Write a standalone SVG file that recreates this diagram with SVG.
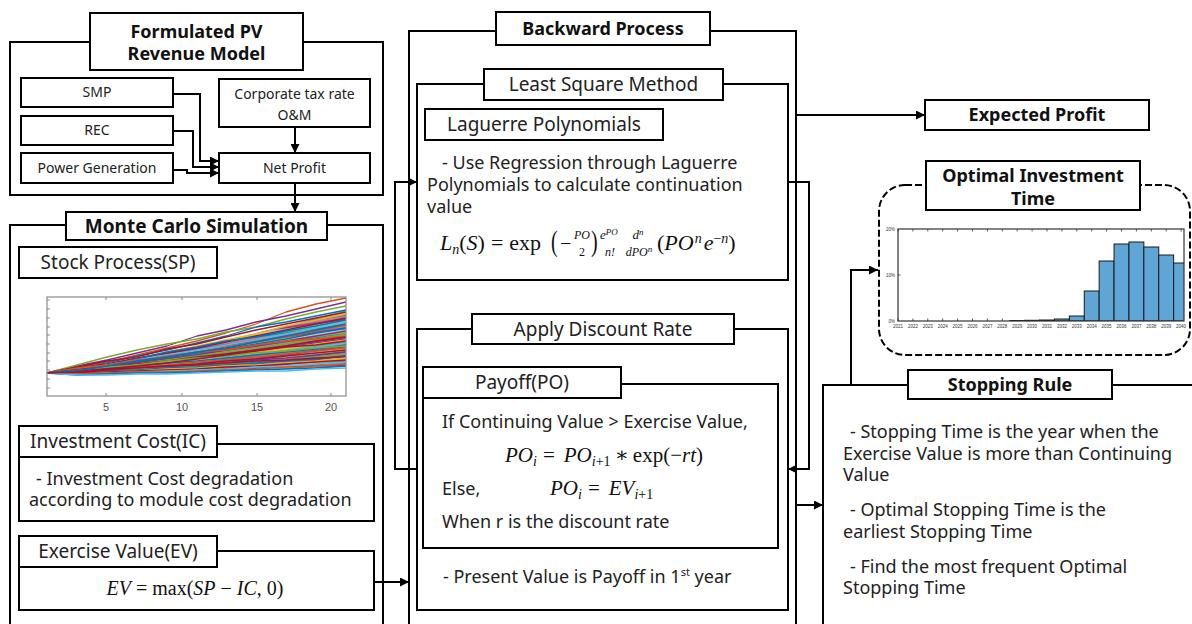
<svg xmlns="http://www.w3.org/2000/svg" width="1192" height="624" viewBox="0 0 1192 624">
<defs>
<style>
.box{fill:#fff;stroke:#000;stroke-width:2}
.frame{fill:none;stroke:#000;stroke-width:2}
.t{font-family:"Noto Sans","Open Sans",sans-serif;font-size:18px;fill:#222}
.s{font-family:"Noto Sans","Open Sans",sans-serif;font-size:14px;fill:#222}
.h{font-family:"Noto Sans","Open Sans",sans-serif;font-size:18px;font-weight:bold;fill:#111}
.ti{font-family:"Noto Sans","Open Sans",sans-serif;font-size:19px;fill:#222}
.m{font-family:"Liberation Serif","DejaVu Serif",serif;font-size:20px;fill:#111}
.i{font-style:italic}
.c{fill:none;stroke:#000;stroke-width:2}
.ax{fill:none;stroke:#8a8a8a;stroke-width:1.2}
.tk{stroke:#8a8a8a;stroke-width:1}
.ln{fill:none;stroke-width:1.3;stroke-linejoin:round}
.l0{stroke:#0072BD}.l1{stroke:#D95319}.l2{stroke:#EDB120}.l3{stroke:#7E2F8E}.l4{stroke:#77AC30}.l5{stroke:#4DBEEE}.l6{stroke:#A2142F}
.bar{fill:#5FA5D6;stroke:#1a1a1a;stroke-width:1}
.yr{font-family:"Liberation Sans",sans-serif;font-size:4.5px;fill:#333}
.ch{font-family:"Noto Sans","Open Sans",sans-serif;font-size:18px;font-weight:bold;fill:#111}
.ax5{font-family:"Liberation Sans",sans-serif;font-size:11px;fill:#555}
</style>
<marker id="ah" viewBox="0 0 10 10" refX="10" refY="5" markerWidth="9" markerHeight="9" markerUnits="userSpaceOnUse" orient="auto"><path d="M0,0 L10,5 L0,10 z" fill="#000"/></marker>
<clipPath id="hc"><rect x="898" y="229" width="286" height="92"/></clipPath>
<pattern id="mix" width="9" height="9" patternUnits="userSpaceOnUse" patternTransform="rotate(-8)">
<rect width="9" height="1.3" y="0" fill="#0072BD"/>
<rect width="9" height="1.3" y="1.3" fill="#D95319"/>
<rect width="9" height="1.3" y="2.6" fill="#7E2F8E"/>
<rect width="9" height="1.3" y="3.9" fill="#A2142F"/>
<rect width="9" height="1.3" y="5.2" fill="#4DBEEE"/>
<rect width="9" height="1.3" y="6.5" fill="#EDB120"/>
<rect width="9" height="1.2" y="7.8" fill="#77AC30"/>
</pattern>
</defs>
<rect width="1192" height="624" fill="#fff"/>

<!-- Formulated PV Revenue Model -->
<g id="pv-model">
<rect class="frame" x="10" y="42" width="373" height="153"/>
<rect class="box" x="90" y="13" width="213" height="57"/>
<text class="h" x="196.5" y="38" text-anchor="middle">Formulated PV</text>
<text class="h" x="196.5" y="60" text-anchor="middle">Revenue Model</text>
</g>
<g id="smp"><rect class="box" x="21" y="78" width="152" height="29"/><text class="s" x="97" y="97" text-anchor="middle">SMP</text></g>
<g id="rec"><rect class="box" x="21" y="116" width="152" height="29"/><text class="s" x="97" y="135" text-anchor="middle">REC</text></g>
<g id="power"><rect class="box" x="21" y="153" width="152" height="30"/><text class="s" x="97" y="173" text-anchor="middle">Power Generation</text></g>
<g id="tax"><rect class="box" x="219" y="79" width="151" height="48"/><text class="s" x="294.5" y="99" text-anchor="middle">Corporate tax rate</text><text class="s" x="294.5" y="120" text-anchor="middle">O&amp;M</text></g>
<g id="net-profit"><rect class="box" x="219" y="153" width="151" height="30"/><text class="s" x="294.5" y="173" text-anchor="middle">Net Profit</text></g>

<!-- Monte Carlo Simulation -->
<g id="monte-carlo">
<path class="frame" d="M10,630 V225 H383 V630"/>
<rect class="box" x="66" y="212" width="261" height="28"/>
<text class="h" x="196.5" y="233" text-anchor="middle" style="font-size:19px">Monte Carlo Simulation</text>
</g>
<g id="stock-process">
<rect class="box" x="19" y="247" width="198" height="31"/>
<text class="ti" x="118" y="269" text-anchor="middle">Stock Process(SP)</text>
<polygon points="47,373 77,369 107,364 137,358 167,352 197,346 226,340 256,333 286,326 316,318 346,310 346,367 286,369 197,371 107,374 77,374" fill="url(#mix)" opacity="0.9"/>
<g class="ln">
<polyline class="l1" points="47,373 77,367 107,362 137,355 167,348 197,341 226,333 256,324 286,312 316,304 346,298"/>
<polyline class="l3" points="47,373 77,366 107,360 137,353 167,346 197,336 226,330 256,322 286,316 316,309 346,302"/>
<polyline class="l4" points="47,373 77,365 107,357 137,350 167,344 197,339 226,332 256,327 286,319 316,312 346,306"/>
<polyline class="l0" points="47,373 77,369 107,363 137,356 167,350 197,343 226,336 256,327 286,322 316,316 346,310"/>
<polyline class="l6" points="47,373 77,367 107,361 137,357 167,349 197,344 226,337 256,330 286,324 316,318 346,312"/>
<polyline class="l2" points="47,373 77,370 107,364 137,358 167,352 197,346 226,340 256,334 286,326 316,320 346,314"/>
<polyline class="l6" points="47,373 77,368 107,364 137,358 167,353 197,348 226,342 256,336 286,330 316,324 346,318"/>
<polyline class="l0" points="47,373 77,371 107,365 137,359 167,352 197,347 226,341 256,337 286,331 316,326 346,320"/>
<polyline class="l5" points="47,373 77,370 107,365 137,360 167,355 197,350 226,345 256,340 286,334 316,328 346,322"/>
<polyline class="l1" points="47,373 77,369 107,366 137,361 167,356 197,352 226,347 256,342 286,337 316,331 346,325"/>
<polyline class="l0" points="47,373 77,371 107,367 137,362 167,358 197,353 226,349 256,344 286,339 316,333 346,328"/>
<polyline class="l3" points="47,373 77,370 107,366 137,363 167,359 197,355 226,350 256,346 286,341 316,336 346,331"/>
<polyline class="l4" points="47,373 77,372 107,368 137,364 167,360 197,356 226,352 256,348 286,344 316,339 346,334"/>
<polyline class="l1" points="47,373 77,368 107,365 137,360 167,357 197,352 226,350 256,345 286,341 316,339 346,336"/>
<polyline class="l6" points="47,373 77,370 107,367 137,364 167,361 197,357 226,354 256,350 286,346 316,341 346,337"/>
<polyline class="l3" points="47,373 77,371 107,368 137,366 167,362 197,358 226,356 256,352 286,347 316,343 346,339"/>
<polyline class="l2" points="47,373 77,371 107,369 137,365 167,362 197,359 226,356 256,352 286,348 316,344 346,340"/>
<polyline class="l5" points="47,373 77,372 107,369 137,367 167,364 197,361 226,358 256,355 286,351 316,347 346,343"/>
<polyline class="l0" points="47,373 77,370 107,368 137,366 167,363 197,361 226,358 256,355 286,352 316,349 346,345"/>
<polyline class="l4" points="47,373 77,371 107,367 137,365 167,361 197,358 226,356 256,353 286,351 316,348 346,346"/>
<polyline class="l1" points="47,373 77,372 107,370 137,367 167,365 197,362 226,360 256,357 286,354 316,351 346,348"/>
<polyline class="l6" points="47,373 77,371 107,369 137,368 167,366 197,364 226,361 256,359 286,356 316,353 346,350"/>
<polyline class="l3" points="47,373 77,372 107,370 137,369 167,367 197,365 226,363 256,360 286,358 316,355 346,352"/>
<polyline class="l4" points="47,373 77,373 107,371 137,369 167,368 197,366 226,364 256,362 286,360 316,357 346,354"/>
<polyline class="l0" points="47,373 77,372 107,371 137,370 167,368 197,367 226,365 256,363 286,361 316,359 346,356"/>
<polyline class="l6" points="47,373 77,373 107,370 137,368 167,366 197,365 226,363 256,361 286,360 316,358 346,357"/>
<polyline class="l2" points="47,373 77,374 107,372 137,371 167,369 197,368 226,366 256,365 286,363 316,361 346,358"/>
<polyline class="l6" points="47,373 77,373 107,372 137,371 167,370 197,369 226,367 256,366 286,364 316,362 346,360"/>
<polyline class="l5" points="47,373 77,374 107,373 137,372 167,371 197,370 226,369 256,367 286,366 316,364 346,362"/>
<polyline class="l1" points="47,373 77,374 107,373 137,372 167,372 197,371 226,370 256,369 286,367 316,366 346,364"/>
<polyline class="l0" points="47,373 77,375 107,374 137,373 167,373 197,372 226,371 256,370 286,369 316,368 346,366"/>
<polyline class="l5" points="47,373 77,375 107,375 137,374 167,374 197,373 226,372 256,371 286,371 316,369 346,368"/>
<polyline class="l0" points="47,373 77,371 107,366 137,361 167,357 197,352 226,348 256,342 286,336 316,330 346,324"/>
<polyline class="l6" points="47,373 77,372 107,369 137,366 167,363 197,359 226,355 256,351 286,347 316,345 346,341"/>
</g>
<rect class="ax" x="47" y="297" width="299" height="99"/>
<g class="tk">
<path d="M47,300h3M47,309h3M47,318h3M47,327h3M47,335h3M47,344h3M47,353h3M47,361h3M47,370h3M47,379h3M47,388h3"/>
<path d="M106,297v3M182,297v3M257,297v3M331,297v3M106,396v-3M182,396v-3M257,396v-3M331,396v-3"/>
</g>
<text class="ax5" x="106" y="411" text-anchor="middle">5</text>
<text class="ax5" x="182" y="411" text-anchor="middle">10</text>
<text class="ax5" x="257" y="411" text-anchor="middle">15</text>
<text class="ax5" x="331" y="411" text-anchor="middle">20</text>
</g>
<g id="investment-cost">
<rect class="frame" x="19" y="444" width="355" height="77"/>
<rect class="box" x="19" y="426" width="198" height="31"/>
<text class="ti" x="118" y="448" text-anchor="middle">Investment Cost(IC)</text>
<text class="t" x="36" y="485">- Investment Cost degradation</text>
<text class="t" x="29" y="506">according to module cost degradation</text>
</g>
<g id="exercise-value">
<rect class="frame" x="19" y="551" width="355" height="59"/>
<rect class="box" x="19" y="536" width="198" height="31"/>
<text class="ti" x="118" y="558" text-anchor="middle">Exercise Value(EV)</text>
<text class="m" x="195" y="595" text-anchor="middle"><tspan class="i">EV</tspan> = max(<tspan class="i">SP</tspan> − <tspan class="i">IC</tspan>, 0)</text>
</g>

<!-- Backward Process -->
<g id="backward-process">
<path class="frame" d="M409,630 V31 H796 V630"/>
<rect class="box" x="496" y="12" width="214" height="33"/>
<text class="h" x="603" y="35" text-anchor="middle">Backward Process</text>
</g>
<g id="least-square">
<rect class="frame" x="417" y="84" width="371" height="196"/>
<rect class="box" x="484" y="69" width="239" height="31"/>
<text class="ti" x="603.5" y="91" text-anchor="middle">Least Square Method</text>
</g>
<g id="laguerre">
<rect class="box" x="425" y="109" width="238" height="31"/>
<text class="ti" x="544" y="131" text-anchor="middle">Laguerre Polynomials</text>
<text class="t" x="442" y="169">- Use Regression through Laguerre</text>
<text class="t" x="427" y="191">Polynomials to calculate continuation</text>
<text class="t" x="427" y="213">value</text>
<text class="m" x="440" y="250" style="font-size:22px"><tspan class="i">L</tspan><tspan class="i" font-size="14" dy="4">n</tspan><tspan dy="-4">(</tspan><tspan class="i">S</tspan>)<tspan dx="6">=</tspan><tspan dx="6">exp</tspan></text>
<text class="m" transform="translate(551,251) scale(1,1.45)" style="font-size:20px">(</text>
<text class="m" x="560" y="250" style="font-size:20px">−</text>
<text class="m i" x="582" y="239" style="font-size:12px" text-anchor="middle">PO</text>
<text class="m" x="582" y="256" style="font-size:12px" text-anchor="middle">2</text>
<text class="m" transform="translate(591,251) scale(1,1.45)" style="font-size:20px">)</text>
<text class="m i" x="600" y="239" style="font-size:13px">e<tspan font-size="9" dy="-4">PO</tspan></text>
<text class="m i" x="610" y="256" style="font-size:12px" text-anchor="middle">n!</text>
<text class="m i" x="638" y="239" style="font-size:13px" text-anchor="middle">d<tspan font-size="9" dy="-4">n</tspan></text>
<text class="m i" x="639" y="256" style="font-size:12px" text-anchor="middle">dPO<tspan font-size="9" dy="-4">n</tspan></text>
<text class="m" x="657" y="250" style="font-size:22px">(<tspan class="i">PO</tspan><tspan class="i" font-size="14" dy="-7" dx="1">n</tspan><tspan class="i" dy="7" dx="2">e</tspan><tspan font-size="14" dy="-7">−</tspan><tspan class="i" font-size="14">n</tspan><tspan dy="7">)</tspan></text>
</g>
<g id="apply-discount">
<rect class="frame" x="417" y="329" width="371" height="281"/>
<rect class="box" x="472" y="314" width="262" height="30"/>
<text class="ti" x="603" y="336" text-anchor="middle">Apply Discount Rate</text>
<text class="t" x="443" y="583">- Present Value is Payoff in 1<tspan font-size="11" dy="-7">st</tspan><tspan dy="7"> year</tspan></text>
</g>
<g id="payoff">
<rect class="frame" x="423" y="384" width="355" height="164"/>
<rect class="box" x="423" y="367" width="198" height="31"/>
<text class="ti" x="522" y="389" text-anchor="middle">Payoff(PO)</text>
<text class="t" x="442" y="428">If Continuing Value &gt; Exercise Value,</text>
<text class="m" x="505" y="462" style="font-size:21px"><tspan class="i">PO</tspan><tspan class="i" font-size="14" dy="4">i</tspan><tspan dy="-4" dx="6">=</tspan><tspan class="i" dx="9">PO</tspan><tspan font-size="14" dy="4"><tspan class="i">i</tspan>+1</tspan><tspan dy="-4" dx="4">∗</tspan><tspan dx="4">exp(−</tspan><tspan class="i">rt</tspan>)</text>
<text class="t" x="442" y="495">Else,</text>
<text class="m" x="550" y="495" style="font-size:21px"><tspan class="i">PO</tspan><tspan class="i" font-size="14" dy="4">i</tspan><tspan dy="-4" dx="6">=</tspan><tspan class="i" dx="9">EV</tspan><tspan font-size="14" dy="4"><tspan class="i">i</tspan>+1</tspan></text>
<text class="t" x="442" y="528">When r is the discount rate</text>
</g>

<!-- Right side -->
<g id="expected-profit">
<rect class="box" x="925" y="100" width="224" height="30"/>
<text class="h" x="1037" y="121" text-anchor="middle">Expected Profit</text>
</g>
<g id="optimal-investment-time">
<rect x="879" y="185" width="311" height="170" rx="26" fill="none" stroke="#000" stroke-width="2" stroke-dasharray="7,3"/>
<rect class="box" x="926" y="161" width="214" height="49"/>
<text class="ch" x="1033" y="182" text-anchor="middle">Optimal Investment</text>
<text class="ch" x="1033" y="205" text-anchor="middle">Time</text>
<g clip-path="url(#hc)">
<rect class="bar" x="1009.75" y="320.5" width="14.9" height="0.5"/>
<rect class="bar" x="1024.65" y="320.3" width="14.9" height="0.7"/>
<rect class="bar" x="1039.55" y="320" width="14.9" height="1"/>
<rect class="bar" x="1054.45" y="319" width="14.9" height="2"/>
<rect class="bar" x="1069.35" y="316" width="14.9" height="5"/>
<rect class="bar" x="1084.25" y="291" width="14.9" height="30"/>
<rect class="bar" x="1099.15" y="261" width="14.9" height="60"/>
<rect class="bar" x="1114.05" y="244" width="14.9" height="77"/>
<rect class="bar" x="1128.95" y="242" width="14.9" height="79"/>
<rect class="bar" x="1143.85" y="247" width="14.9" height="74"/>
<rect class="bar" x="1158.75" y="255" width="14.9" height="66"/>
<rect class="bar" x="1173.65" y="263" width="14.9" height="58"/>
</g>
<rect x="898" y="229" width="286" height="92" fill="none" stroke="#333" stroke-width="1.2"/>
<path stroke="#333" stroke-width="0.8" d="M898,229v2.5M912.9,229v2.5M927.8,229v2.5M942.7,229v2.5M957.6,229v2.5M972.5,229v2.5M987.4,229v2.5M1002.3,229v2.5M1017.2,229v2.5M1032.1,229v2.5M1047,229v2.5M1061.9,229v2.5M1076.8,229v2.5M1091.7,229v2.5M1106.6,229v2.5M1121.5,229v2.5M1136.4,229v2.5M1151.3,229v2.5M1166.2,229v2.5M1181.1,229v2.5M898,321v-2.5M912.9,321v-2.5M927.8,321v-2.5M942.7,321v-2.5M957.6,321v-2.5M972.5,321v-2.5M987.4,321v-2.5M1002.3,321v-2.5M898,275h2.5"/>
<text class="yr" x="895" y="231" text-anchor="end">20%</text>
<text class="yr" x="895" y="277" text-anchor="end">10%</text>
<text class="yr" x="895" y="323" text-anchor="end">0%</text>
<g class="yr" text-anchor="middle">
<text x="898" y="328">2021</text><text x="912.9" y="328">2022</text><text x="927.8" y="328">2023</text><text x="942.7" y="328">2024</text><text x="957.6" y="328">2025</text><text x="972.5" y="328">2026</text><text x="987.4" y="328">2027</text><text x="1002.3" y="328">2028</text><text x="1017.2" y="328">2029</text><text x="1032.1" y="328">2030</text><text x="1047" y="328">2031</text><text x="1061.9" y="328">2032</text><text x="1076.8" y="328">2033</text><text x="1091.7" y="328">2034</text><text x="1106.6" y="328">2035</text><text x="1121.5" y="328">2036</text><text x="1136.4" y="328">2037</text><text x="1151.3" y="328">2038</text><text x="1166.2" y="328">2039</text><text x="1181.1" y="328">2040</text>
</g>
</g>
<g id="stopping-rule">
<path class="frame" d="M823,630 V385 H1200"/>
<rect class="box" x="908" y="370" width="204" height="29"/>
<text class="h" x="1010" y="391" text-anchor="middle">Stopping Rule</text>
<text class="t" x="850" y="438">- Stopping Time is the year when the</text>
<text class="t" x="843" y="460">Exercise Value is more than Continuing</text>
<text class="t" x="843" y="481">Value</text>
<text class="t" x="850" y="516">- Optimal Stopping Time is the</text>
<text class="t" x="843" y="538">earliest Stopping Time</text>
<text class="t" x="850" y="573">- Find the most frequent Optimal</text>
<text class="t" x="843" y="594">Stopping Time</text>
</g>

<!-- Connectors -->
<g id="connectors">
<path class="c" d="M173,94 H200 V161 H219" marker-end="url(#ah)"/>
<path class="c" d="M173,131 H193 V167 H219" marker-end="url(#ah)"/>
<path class="c" d="M173,170 H187 V173 H219" marker-end="url(#ah)"/>
<path class="c" d="M295,127 V153" marker-end="url(#ah)"/>
<path class="c" d="M295,183 V212" marker-end="url(#ah)"/>
<path class="c" d="M374,582 H409" marker-end="url(#ah)"/>
<path class="c" d="M417,469 H395 V182 H417" marker-end="url(#ah)"/>
<path class="c" d="M788,182 H809 V469 H788" marker-end="url(#ah)"/>
<path class="c" d="M796,115 H925" marker-end="url(#ah)"/>
<path class="c" d="M796,505 H823" marker-end="url(#ah)"/>
<path class="c" d="M851,385 V270 H878" marker-end="url(#ah)"/>
</g>
</svg>
